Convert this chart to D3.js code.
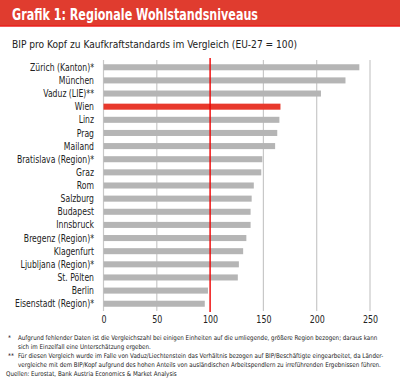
<!DOCTYPE html>
<html>
<head>
<meta charset="utf-8">
<script src="https://cdn.jsdelivr.net/npm/d3@7"></script>
<style>
  body { margin: 0; background: #fff; }
  svg { display: block; }
  text { font-family: "Liberation Sans Narrow", "DejaVu Sans Condensed", sans-serif; }
</style>
</head>
<body>
<svg id="chart"></svg>
<script>
const W = 400, H = 388;

// data
const regions = ["Zürich (Kanton)*", "München", "Vaduz (LIE)**", "Wien", "Linz", "Prag", "Mailand",
  "Bratislava (Region)*", "Graz", "Rom", "Salzburg", "Budapest", "Innsbruck", "Bregenz (Region)*",
  "Klagenfurt", "Ljubljana (Region)*", "St. Pölten", "Berlin", "Eisenstadt (Region)*"];
const values = [240, 227, 204, 166, 165, 163, 161, 149, 148, 141, 139, 138, 138, 134, 131, 127, 126, 98, 95];
const ticks = [0, 50, 100, 150, 200, 250];
const highlight = "Wien";
const reference = 100;

const notes = [
  ["*", "Aufgrund fehlender Daten ist die Vergleichszahl bei einigen Einheiten auf die umliegende, größere Region bezogen; daraus kann"],
  ["", "sich im Einzelfall eine Unterschätzung ergeben."],
  ["**", "Für diesen Vergleich wurde im Falle von Vaduz/Liechtenstein das Verhältnis bezogen auf BIP/Beschäftigte eingearbeitet, da Länder-"],
  ["", "vergleiche mit dem BIP/Kopf aufgrund des hohen Anteils von ausländischen Arbeitspendlern zu irreführenden Ergebnissen führen."]
];
const source = "Quellen: Eurostat, Bank Austria Economics & Market Analysis";

const svg = d3.select("#chart").attr("width", W).attr("height", H);

// title band
svg.append("rect").attr("x", 0).attr("y", 0).attr("width", W).attr("height", 26).attr("fill", "#e03c2f");
svg.append("rect").attr("x", 0).attr("y", 25.5).attr("width", W).attr("height", 1.2).attr("fill", "#ee1111");
svg.append("text")
  .attr("x", 12).attr("y", 19.5)
  .attr("fill", "#fff")
  .attr("font-size", 16)
  .attr("font-weight", "bold")
  .attr("textLength", 246)
  .attr("lengthAdjust", "spacingAndGlyphs")
  .text("Grafik 1: Regionale Wohlstandsniveaus");

svg.append("text")
  .attr("x", 12).attr("y", 48)
  .attr("fill", "#222")
  .attr("font-size", 10.5)
  .attr("textLength", 285)
  .attr("lengthAdjust", "spacingAndGlyphs")
  .text("BIP pro Kopf zu Kaufkraftstandards im Vergleich (EU-27 = 100)");

const x = d3.scaleLinear().domain([0, 250]).range([103.5, 370]);
const y = d3.scaleBand().domain(regions).range([60.7, 310.3]).paddingInner(0.54).paddingOuter(0.27);

// grid
svg.append("g")
  .selectAll("line")
  .data(ticks.filter(t => t !== reference))
  .join("line")
  .attr("x1", d => x(d)).attr("x2", d => x(d))
  .attr("y1", 60).attr("y2", 311)
  .attr("stroke", "#c8c8c8")
  .attr("stroke-width", 1.2);

// bars
svg.append("g")
  .selectAll("rect")
  .data(regions)
  .join("rect")
  .attr("x", x(0))
  .attr("y", d => y(d))
  .attr("width", (d, i) => x(values[i]) - x(0))
  .attr("height", y.bandwidth())
  .attr("fill", d => d === highlight ? "#e8392c" : "#b5b5b5");

// reference line at 100
svg.append("line")
  .attr("x1", x(reference)).attr("x2", x(reference))
  .attr("y1", 58).attr("y2", 312)
  .attr("stroke", "#ee0000")
  .attr("stroke-width", 1.4);

// category labels, squeezed horizontally (no narrow font here)
const sq = 0.84;
svg.append("g")
  .attr("transform", `translate(94,0) scale(${sq},1)`)
  .selectAll("text")
  .data(regions)
  .join("text")
  .attr("x", 0)
  .attr("y", d => y(d) + y.bandwidth() / 2)
  .attr("dy", "0.35em")
  .attr("text-anchor", "end")
  .attr("font-size", 10.2)
  .attr("fill", "#222")
  .text(d => d);

// x axis labels
const xAxis = svg.append("g")
  .attr("transform", `translate(0, 313)`)
  .call(d3.axisBottom(x).tickValues(ticks).tickSize(0).tickPadding(3));
xAxis.select(".domain").remove();
xAxis.selectAll("text")
  .attr("font-family", "Liberation Sans Narrow, DejaVu Sans Condensed, sans-serif")
  .attr("font-size", 10.5)
  .attr("fill", "#222")
  .attr("transform", `scale(${sq},1)`)
  .attr("x", 0);
xAxis.selectAll(".tick").each(function (d) {
  d3.select(this).select("text").attr("transform", `scale(${sq},1)`);
});

// footnotes
const fn = svg.append("g").attr("font-size", 6.6).attr("fill", "#222");
const first = fn.append("text").attr("x", 0).attr("y", 0).text(notes[0][1]);
const fScale = 360 / first.node().getComputedTextLength();
first.remove();
notes.forEach((n, i) => {
  const yy = 340 + i * 9;
  fn.append("text").attr("x", 8).attr("y", yy).text(n[0]);
  fn.append("text")
    .attr("transform", `translate(18,${yy}) scale(${fScale},1)`)
    .text(n[1]);
});
fn.append("text")
  .attr("transform", `translate(6,376) scale(${fScale},1)`)
  .text(source);
</script>
</body>
</html>
